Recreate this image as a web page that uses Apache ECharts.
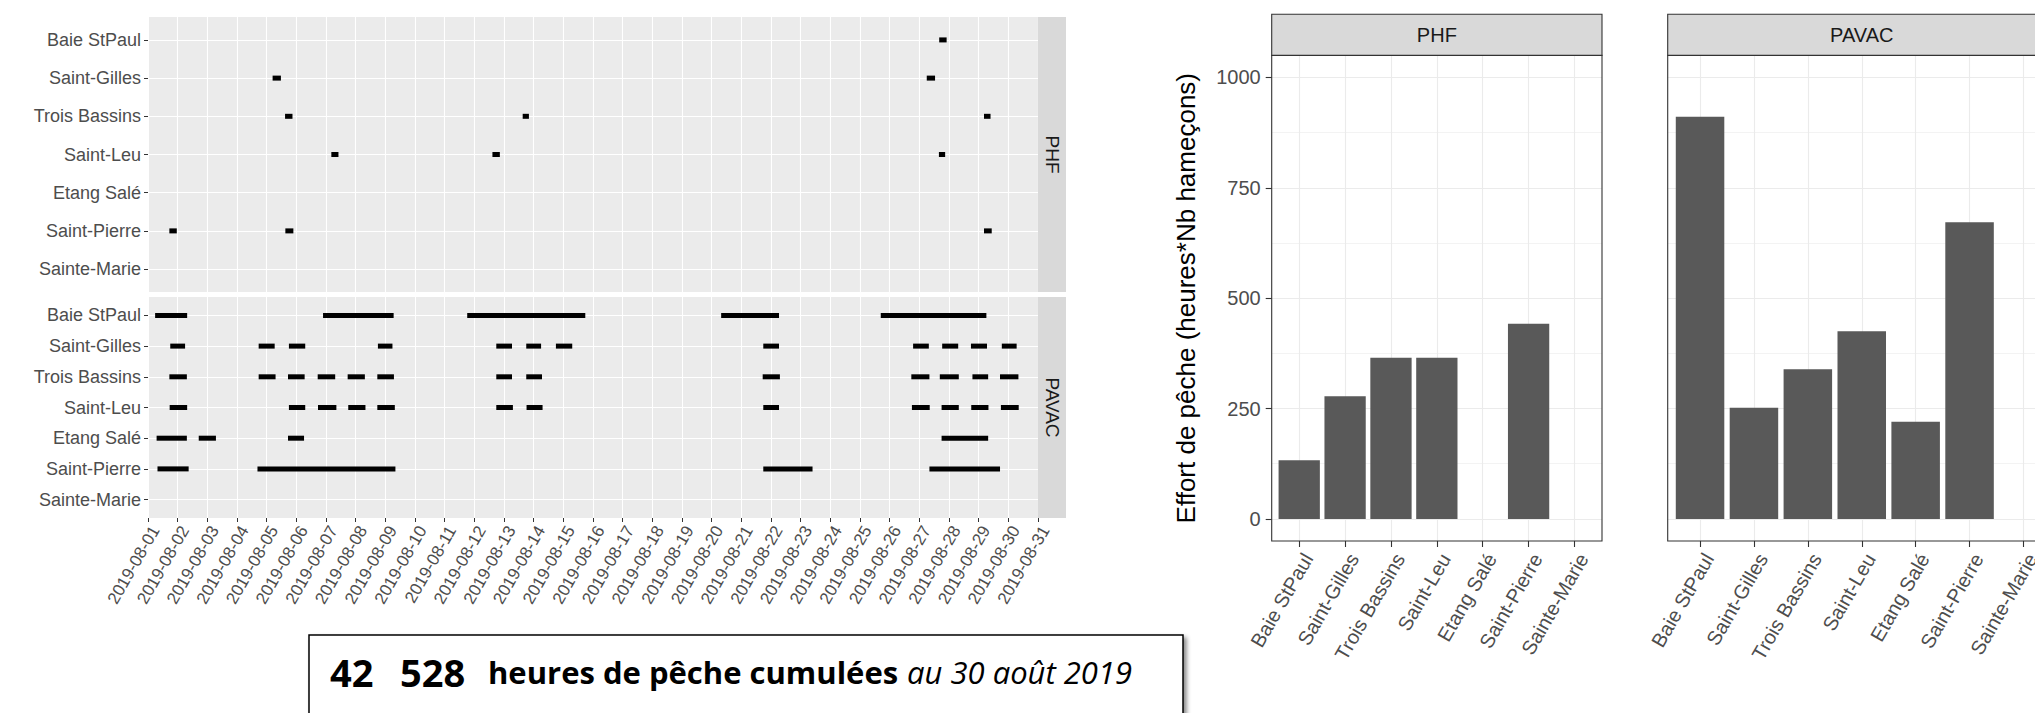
<!DOCTYPE html>
<html>
<head>
<meta charset="utf-8">
<script src="https://cdn.jsdelivr.net/npm/echarts@6/dist/echarts.min.js"></script>
<style>
html,body{margin:0;padding:0;background:#fff;}
#c{width:2035px;height:713px;}
</style>
</head>
<body>
<div id="c"></div>
<script>
// ---------------- DATA ----------------
const sites = ['Baie StPaul', 'Saint-Gilles', 'Trois Bassins', 'Saint-Leu', 'Etang Salé', 'Saint-Pierre', 'Sainte-Marie'];

const dateTicks = [
  '2019-08-01', '2019-08-02', '2019-08-03', '2019-08-04', '2019-08-05', '2019-08-06', '2019-08-07',
  '2019-08-08', '2019-08-09', '2019-08-10', '2019-08-11', '2019-08-12', '2019-08-13', '2019-08-14',
  '2019-08-15', '2019-08-16', '2019-08-17', '2019-08-18', '2019-08-19', '2019-08-20', '2019-08-21',
  '2019-08-22', '2019-08-23', '2019-08-24', '2019-08-25', '2019-08-26', '2019-08-27', '2019-08-28',
  '2019-08-29', '2019-08-30', '2019-08-31'
];

// fishing periods: [site index, start, end] in fractional day of August (1 = 1 Aug 00:00)
const phfSegments = [
  [0, 27.67, 27.92],
  [1, 5.20, 5.48], [1, 27.25, 27.53],
  [2, 5.62, 5.87], [2, 13.63, 13.84], [2, 29.18, 29.40],
  [3, 7.18, 7.42], [3, 12.61, 12.86], [3, 27.66, 27.87],
  [5, 1.72, 1.97], [5, 5.63, 5.90], [5, 29.18, 29.44]
];

const pavacSegments = [
  [0, 1.24, 2.32], [0, 6.90, 9.28], [0, 11.76, 15.74], [0, 20.32, 22.27], [0, 25.70, 29.26],
  [1, 1.75, 2.25], [1, 4.73, 5.27], [1, 5.75, 6.30], [1, 8.75, 9.24], [1, 12.74, 13.27], [1, 13.75, 14.25],
  [1, 14.75, 15.30], [1, 21.74, 22.27], [1, 26.79, 27.32], [1, 27.77, 28.31], [1, 28.74, 29.28], [1, 29.78, 30.28],
  [2, 1.72, 2.31], [2, 4.73, 5.30], [2, 5.72, 6.28], [2, 6.72, 7.31], [2, 7.73, 8.31], [2, 8.73, 9.29],
  [2, 12.74, 13.27], [2, 13.75, 14.28], [2, 21.72, 22.30], [2, 26.73, 27.34], [2, 27.69, 28.33],
  [2, 28.79, 29.32], [2, 29.72, 30.34],
  [3, 1.73, 2.32], [3, 5.75, 6.30], [3, 6.73, 7.35], [3, 7.75, 8.33], [3, 8.73, 9.32], [3, 12.74, 13.30],
  [3, 13.76, 14.30], [3, 21.74, 22.27], [3, 26.75, 27.35], [3, 27.75, 28.33], [3, 28.75, 29.33], [3, 29.75, 30.35],
  [4, 1.29, 2.31], [4, 2.71, 3.29], [4, 5.72, 6.26], [4, 27.75, 29.32],
  [5, 1.32, 2.37], [5, 4.69, 9.34], [5, 21.74, 23.40], [5, 27.34, 29.72]
];

const effortTicks = [0, 250, 500, 750, 1000];
const phfEffort = [133, 278, 365, 365, 0, 442, 0];
const pavacEffort = [911, 252, 339, 425, 220, 672, 0];

const panelNames = ['PHF', 'PAVAC'];
const yTitle = 'Effort de pêche (heures*Nb hameçons)';
const summaryNumber = ['42', '528'];
const summaryLabel = 'heures de pêche cumulées';
const summaryDate = 'au 30 août 2019';

// ---------------- LAYOUT ----------------
const AX_FONT = '"Liberation Sans", Arial, sans-serif';
const TL = { left: 148, right: 1038, stripW: 28,
  panels: [{ top: 17, bottom: 292 }, { top: 297, bottom: 518 }] };
const EXP = 0.6;               // discrete axis expansion (ggplot)
const SEG_H = 5;
const BC = { top: 55.4, bottom: 541, stripTop: 14.3, yMin: -50, yMax: 1050,
  panels: [{ left: 1271.7, right: 1602 }, { left: 1667.7, right: 2055.8 }] };

function rowGrid(p) {
  const u = (p.bottom - p.top) / (sites.length - 1 + 2 * EXP);
  return { top: p.top + EXP * u, height: u * (sites.length - 1) };
}
function barInner(p) {
  const u = (p.right - p.left) / (sites.length - 1 + 2 * EXP);
  return { left: p.left + EXP * u, width: u * (sites.length - 1) };
}
function yPix(v) {
  return BC.top + (BC.bottom - BC.top) * (BC.yMax - v) / (BC.yMax - BC.yMin);
}

const grids = [], xAxes = [], yAxes = [], series = [], graphics = [];
function addGrid(g) {
  grids.push(Object.assign({ show: false, containLabel: false, outerBoundsMode: 'none', borderWidth: 0 }, g));
  return grids.length - 1;
}

function segRender(params, api) {
  const row = api.value(0);
  const a = api.coord([api.value(1), row]);
  const b = api.coord([api.value(2), row]);
  return { type: 'rect', shape: { x: a[0], y: a[1] - SEG_H / 2, width: b[0] - a[0], height: SEG_H },
    style: { fill: '#000' } };
}

// ---- timeline facets ----
[[phfSegments, false], [pavacSegments, true]].forEach(([segs, showX], k) => {
  const p = TL.panels[k];
  const gi = addGrid({ left: TL.left, top: p.top, width: TL.right - TL.left, height: p.bottom - p.top,
    show: true, backgroundColor: '#ebebeb' });
  xAxes.push({ type: 'value', gridIndex: gi, position: 'bottom', min: 1, max: dateTicks.length, interval: 1,
    axisLine: { show: false, onZero: false },
    axisTick: { show: showX, length: 4, lineStyle: { color: '#333', width: 1 } },
    axisLabel: { show: showX, formatter: v => dateTicks[Math.round(v) - 1] || '', rotate: 60,
      align: 'right', verticalAlign: 'top', margin: 5, color: '#4d4d4d', fontSize: 17, fontFamily: AX_FONT },
    splitLine: { show: true, lineStyle: { color: '#fff', width: 1.1 } } });
  yAxes.push({ type: 'value', gridIndex: gi, min: -EXP, max: sites.length - 1 + EXP, inverse: true, show: false,
    axisLine: { onZero: false } });
  series.push({ type: 'custom', xAxisIndex: xAxes.length - 1, yAxisIndex: yAxes.length - 1,
    data: segs, encode: { x: [1, 2], y: 0 }, renderItem: segRender, silent: true, clip: true });

  const r = rowGrid(p);
  const gi2 = addGrid({ left: TL.left, top: r.top, width: TL.right - TL.left, height: r.height });
  xAxes.push({ type: 'value', gridIndex: gi2, min: 1, max: dateTicks.length, show: false, axisLine: { onZero: false } });
  yAxes.push({ type: 'value', gridIndex: gi2, position: 'left', min: 0, max: sites.length - 1, interval: 1, inverse: true,
    axisLine: { show: false, onZero: false },
    axisTick: { show: true, length: 4, lineStyle: { color: '#333', width: 1 } },
    axisLabel: { formatter: v => sites[Math.round(v)] || '', margin: 7, color: '#4d4d4d', fontSize: 18, fontFamily: AX_FONT },
    splitLine: { show: true, lineStyle: { color: '#fff', width: 1.1 } } });

  graphics.push({ type: 'rect', z: 50, shape: { x: TL.right, y: p.top, width: TL.stripW, height: p.bottom - p.top },
    style: { fill: '#d9d9d9' } });
  graphics.push({ type: 'text', z: 51, x: TL.right + TL.stripW / 2, y: (p.top + p.bottom) / 2, rotation: -Math.PI / 2,
    style: { text: panelNames[k], font: '19px ' + AX_FONT, fill: '#1a1a1a', align: 'center', verticalAlign: 'middle',
      textAlign: 'center', textVerticalAlign: 'middle' } });
});

// ---- bar facets ----
[phfEffort, pavacEffort].forEach((vals, k) => {
  const p = BC.panels[k];
  const inner = barInner(p);
  const showY = k === 0;
  const gi = addGrid({ left: inner.left, width: inner.width, top: BC.top, height: BC.bottom - BC.top });
  xAxes.push({ type: 'value', gridIndex: gi, position: 'bottom', min: 0, max: sites.length - 1, interval: 1,
    axisLine: { show: false, onZero: false },
    axisTick: { show: true, length: 6, lineStyle: { color: '#333', width: 1.1 } },
    axisLabel: { formatter: v => sites[Math.round(v)] || '', rotate: 60, align: 'right', verticalAlign: 'top',
      margin: 9, color: '#4d4d4d', fontSize: 20, fontFamily: AX_FONT },
    splitLine: { show: true, lineStyle: { color: '#ebebeb', width: 1.1 } } });
  yAxes.push({ type: 'value', gridIndex: gi, min: BC.yMin, max: BC.yMax, show: false, axisLine: { onZero: false } });
  series.push({ type: 'bar', xAxisIndex: xAxes.length - 1, yAxisIndex: yAxes.length - 1,
    data: vals.map((v, i) => [i, v]), barWidth: '90%', itemStyle: { color: '#595959' }, silent: true });

  const top = yPix(effortTicks[effortTicks.length - 1]);
  const gi2 = addGrid({ left: p.left, width: p.right - p.left, top: top, height: yPix(effortTicks[0]) - top });
  xAxes.push({ type: 'value', gridIndex: gi2, min: 0, max: 1, show: false, axisLine: { onZero: false } });
  yAxes.push({ type: 'value', gridIndex: gi2, position: 'left', min: effortTicks[0], max: effortTicks[effortTicks.length - 1],
    interval: effortTicks[1] - effortTicks[0],
    axisLine: { show: false, onZero: false },
    axisTick: { show: showY, length: 6, lineStyle: { color: '#333', width: 1.1 } },
    axisLabel: { show: showY, formatter: v => String(v), margin: 11, color: '#4d4d4d', fontSize: 20, fontFamily: AX_FONT },
    splitLine: { show: true, lineStyle: { color: '#ebebeb', width: 1.1 } },
    minorTick: { show: false, splitNumber: 2 },
    minorSplitLine: { show: true, lineStyle: { color: '#ebebeb', width: 0.6 } } });

  graphics.push({ type: 'rect', z: 60, shape: { x: p.left, y: BC.top, width: p.right - p.left, height: BC.bottom - BC.top },
    style: { fill: 'none', stroke: '#333', lineWidth: 1.1 } });
  graphics.push({ type: 'rect', z: 60, shape: { x: p.left, y: BC.stripTop, width: p.right - p.left, height: BC.top - BC.stripTop },
    style: { fill: '#d9d9d9', stroke: '#333', lineWidth: 1.1 } });
  graphics.push({ type: 'text', z: 61, x: (p.left + p.right) / 2, y: (BC.stripTop + BC.top) / 2,
    style: { text: panelNames[k], font: '20px ' + AX_FONT, fill: '#1a1a1a', align: 'center', verticalAlign: 'middle',
      textAlign: 'center', textVerticalAlign: 'middle' } });
});

// y title
graphics.push({ type: 'text', z: 61, x: 1186, y: (yPix(0) + yPix(1000)) / 2, rotation: Math.PI / 2,
  style: { text: yTitle, font: '26px ' + AX_FONT, fill: '#000', align: 'center', verticalAlign: 'middle',
    textAlign: 'center', textVerticalAlign: 'middle' } });

// summary box
graphics.push({ type: 'rect', z: 70, shape: { x: 309, y: 635, width: 874, height: 120 },
  style: { fill: '#fff', stroke: '#000', lineWidth: 1.5, shadowBlur: 4, shadowOffsetX: 3, shadowOffsetY: 3,
    shadowColor: 'rgba(0,0,0,0.45)' } });
const BOX_FONT = '"Open Sans", "Noto Sans", sans-serif';
[[summaryNumber[0], 330, 'bold 38px '], [summaryNumber[1], 400, 'bold 38px '],
 [summaryLabel, 488, 'bold 31px '], [summaryDate, 907, 'italic 31px ']].forEach(([t, x, f]) => {
  graphics.push({ type: 'text', z: 71, x: x, y: 672,
    style: { text: t, font: f + BOX_FONT, fill: '#000', align: 'left', verticalAlign: 'middle',
      textAlign: 'left', textVerticalAlign: 'middle' } });
});

const chart = echarts.init(document.getElementById('c'), null, { renderer: 'svg', width: 2035, height: 713 });
chart.setOption({
  animation: false,
  backgroundColor: '#fff',
  grid: grids,
  xAxis: xAxes,
  yAxis: yAxes,
  series: series,
  graphic: { elements: graphics }
});
</script>
</body>
</html>
